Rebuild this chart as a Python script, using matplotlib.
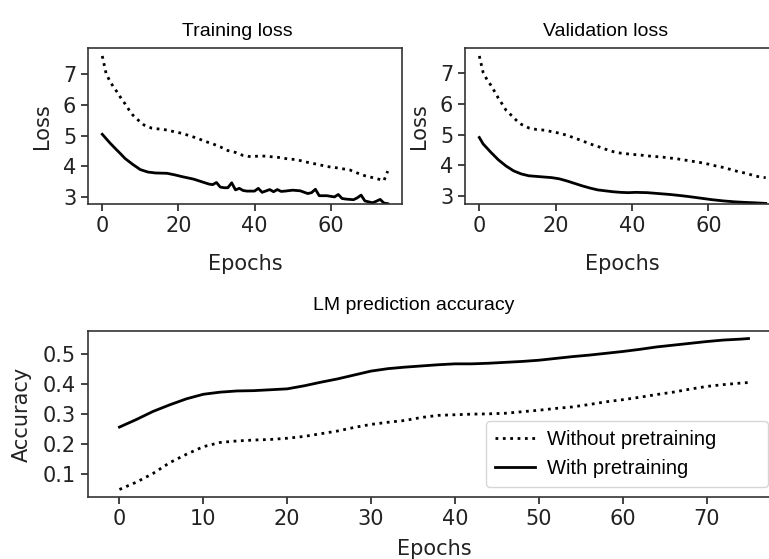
import matplotlib
matplotlib.use('Agg')
import matplotlib.pyplot as plt

# training loss
train_wo_ep = [0, 1, 2, 3, 4, 5, 6, 7, 8, 9, 10, 11, 13, 15, 17, 19, 21, 23, 25, 27, 29, 31, 33, 35, 37,
               39, 41, 43, 45, 47, 49, 51, 53, 55, 57, 59, 61, 63, 65, 67, 69, 71, 72, 74, 75]
train_wo = [7.59, 7.02, 6.77, 6.57, 6.40, 6.20, 6.03, 5.84, 5.67, 5.55, 5.44, 5.34, 5.24, 5.21, 5.18, 5.12,
            5.07, 4.99, 4.91, 4.81, 4.73, 4.63, 4.51, 4.45, 4.35, 4.31, 4.33, 4.33, 4.30, 4.28, 4.23, 4.22,
            4.15, 4.10, 4.05, 3.99, 3.96, 3.92, 3.88, 3.78, 3.69, 3.63, 3.60, 3.53, 3.84]
train_w_ep = [0, 2, 3, 5, 6, 8, 10, 12, 14, 17, 19, 21, 24, 26, 28, 29, 30, 31, 32, 33, 34, 35, 36, 37, 38,
              40, 41, 42, 44, 45, 46, 47, 48, 50, 52, 54, 55, 56, 57, 59, 61, 62, 63, 64, 66, 67, 68, 69,
              70, 71, 72, 73, 74, 75]
train_w = [5.04, 4.76, 4.63, 4.38, 4.25, 4.06, 3.89, 3.81, 3.78, 3.77, 3.72, 3.66, 3.58, 3.50, 3.42, 3.40,
           3.47, 3.32, 3.30, 3.30, 3.46, 3.23, 3.28, 3.21, 3.19, 3.19, 3.28, 3.15, 3.24, 3.17, 3.24, 3.18,
           3.19, 3.22, 3.20, 3.11, 3.14, 3.25, 3.04, 3.04, 3.00, 3.08, 2.95, 2.93, 2.91, 2.97, 3.06, 2.87,
           2.84, 2.81, 2.86, 2.92, 2.80, 2.78]

# validation loss
val_wo_ep = [0, 1, 2, 3, 4, 5, 6, 7, 8, 9, 10, 11, 13, 15, 17, 19, 21, 23, 25, 27, 29, 31, 33, 35, 37, 40,
             42, 44, 46, 48, 50, 52, 54, 56, 58, 60, 62, 64, 66, 68, 70, 72, 74, 75]
val_wo = [7.57, 7.03, 6.80, 6.62, 6.41, 6.19, 6.00, 5.80, 5.68, 5.56, 5.43, 5.34, 5.22, 5.17, 5.15, 5.10,
          5.05, 4.98, 4.89, 4.80, 4.70, 4.62, 4.53, 4.45, 4.40, 4.36, 4.34, 4.31, 4.29, 4.27, 4.24, 4.21,
          4.17, 4.13, 4.09, 4.04, 3.98, 3.93, 3.86, 3.79, 3.74, 3.66, 3.61, 3.60]
val_w_ep = [0, 1, 3, 5, 7, 9, 11, 13, 15, 17, 19, 21, 23, 25, 27, 29, 31, 33, 35, 37, 39, 41, 44, 47, 50,
            53, 55, 58, 61, 64, 67, 70, 72, 75]
val_w = [4.91, 4.70, 4.43, 4.18, 3.98, 3.82, 3.72, 3.66, 3.64, 3.62, 3.60, 3.56, 3.49, 3.41, 3.33, 3.26,
         3.20, 3.17, 3.14, 3.12, 3.11, 3.12, 3.11, 3.08, 3.05, 3.01, 2.98, 2.93, 2.88, 2.84, 2.81, 2.79,
         2.78, 2.76]

# LM prediction accuracy
acc_ep = [0, 2, 4, 6, 8, 10, 12, 14, 16, 18, 20, 22, 24, 26, 28, 30, 32, 34, 36, 38, 40, 42, 44, 46, 48,
          50, 52, 54, 56, 58, 60, 62, 64, 66, 68, 70, 72, 74, 75]
acc_wo = [0.050, 0.074, 0.103, 0.139, 0.167, 0.192, 0.206, 0.211, 0.214, 0.216, 0.220, 0.226, 0.235,
          0.244, 0.256, 0.266, 0.273, 0.279, 0.289, 0.296, 0.298, 0.300, 0.301, 0.303, 0.308, 0.313,
          0.319, 0.324, 0.332, 0.341, 0.348, 0.356, 0.365, 0.373, 0.383, 0.392, 0.398, 0.403, 0.405]
acc_w = [0.257, 0.282, 0.309, 0.331, 0.351, 0.366, 0.373, 0.377, 0.378, 0.381, 0.384, 0.394, 0.406,
         0.417, 0.430, 0.443, 0.451, 0.456, 0.460, 0.464, 0.467, 0.467, 0.469, 0.472, 0.475, 0.479,
         0.485, 0.491, 0.496, 0.502, 0.508, 0.515, 0.523, 0.529, 0.535, 0.541, 0.546, 0.549, 0.551]

labels = ['Without pretraining', 'With pretraining']

FS = 15
title_font = dict(family='Liberation Sans', size=14)
ink = '#222222'

plt.rcParams['font.size'] = FS
plt.rcParams['axes.linewidth'] = 1.2
plt.rcParams['axes.edgecolor'] = '#333333'
plt.rcParams['xtick.major.size'] = 5
plt.rcParams['ytick.major.size'] = 5
plt.rcParams['xtick.major.width'] = 1.2
plt.rcParams['ytick.major.width'] = 1.2
plt.rcParams['xtick.color'] = ink
plt.rcParams['ytick.color'] = ink
plt.rcParams['axes.labelcolor'] = ink

W, H = 769, 559
fig = plt.figure(figsize=(W / 100, H / 100), dpi=100)

def place(x0, y0, x1, y1):
    # pixel box -> figure fraction (the right side runs past the picture on purpose)
    return fig.add_axes([x0 / W, 1 - y1 / H, (x1 - x0) / W, (y1 - y0) / H])

ax1 = place(88, 48, 402, 204)
ax2 = place(465, 48, 780, 204)
ax3 = place(88, 331, 780, 497)

for ax, ep_wo, wo, ep_w, w, title, tx, ylim in [
        (ax1, train_wo_ep, train_wo, train_w_ep, train_w, 'Training loss', 0.475, (2.77, 7.85)),
        (ax2, val_wo_ep, val_wo, val_w_ep, val_w, 'Validation loss', 0.445, (2.74, 7.83))]:
    ax.plot(ep_wo, wo, ':', color='black', lw=2)
    ax.plot(ep_w, w, '-', color='black', lw=2)
    ax.set_ylim(*ylim)
    ax.set_xticks([0, 20, 40, 60])
    ax.set_yticks([3, 4, 5, 6, 7])
    ax.set_xlabel('Epochs', labelpad=13)
    ax.set_ylabel('Loss', labelpad=8)
    ax.set_title(title, fontdict=title_font, x=tx, pad=9)

ax3.plot(acc_ep, acc_wo, ':', color='black', lw=2, label=labels[0])
ax3.plot(acc_ep, acc_w, '-', color='black', lw=2, label=labels[1])
ax3.set_xticks(range(0, 80, 10))
ax3.set_yticks([0.1, 0.2, 0.3, 0.4, 0.5])
ax3.set_xlabel('Epochs', labelpad=7)
ax3.set_ylabel('Accuracy', labelpad=8)
ax3.set_title('LM prediction accuracy', fontdict=title_font, x=0.47, pad=15)
ax3.legend(loc='lower left', bbox_to_anchor=(0.575, 0.06, 0.408, 0.4), mode='expand',
           borderaxespad=0, borderpad=0.45, handletextpad=0.6,
           prop=dict(family='Liberation Sans', size=14.5))

fig.savefig('out.png', dpi=100)
